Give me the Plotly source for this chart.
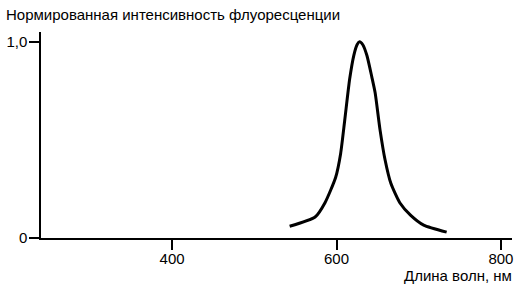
import plotly.graph_objects as go

wavelength = [543, 574, 586, 599, 605, 610, 616, 621, 625, 628, 632, 637, 643, 647, 653, 659, 666, 677, 690, 706, 734]
intensity = [0.06, 0.107, 0.18, 0.31, 0.43, 0.60, 0.81, 0.93, 0.985, 1.0, 0.985, 0.93, 0.82, 0.74, 0.55, 0.40, 0.28, 0.18, 0.117, 0.066, 0.03]

x_ticks = [400, 600, 800]
y_ticks = [0, 1]
y_ticktext = ["0", "1,0"]

FONT = "Liberation Sans, Arial, sans-serif"

fig = go.Figure()
fig.add_trace(go.Scatter(x=wavelength, y=intensity, mode="lines",
                         line=dict(color="black", width=3, shape="spline", smoothing=0.6),
                         hoverinfo="skip", showlegend=False))

fig.update_layout(
    width=516, height=290,
    margin=dict(l=41, r=4, t=32, b=52),
    paper_bgcolor="white", plot_bgcolor="white",
    font=dict(family=FONT, size=15, color="black"),
    xaxis=dict(range=[240.5, 813.5], tickvals=x_ticks, ticks="outside", ticklen=10,
               ticklabelstandoff=-4,
               tickwidth=1.5, tickcolor="black", showline=True, linecolor="black",
               linewidth=1.5, showgrid=False, zeroline=False,
               tickfont=dict(family=FONT, size=15)),
    yaxis=dict(range=[0, 1.05], tickvals=y_ticks, ticktext=y_ticktext, ticks="outside",
               ticklen=10, ticklabelstandoff=-1, tickwidth=1.5, tickcolor="black", showline=True,
               linecolor="black", linewidth=1.5, showgrid=False, zeroline=False,
               tickfont=dict(family=FONT, size=15)),
    annotations=[
        dict(text="Нормированная интенсивность флуоресценции", xref="paper", yref="paper",
             x=0, y=1, xshift=-37, yshift=18, xanchor="left", yanchor="middle",
             showarrow=False, font=dict(family=FONT, size=15)),
        dict(text="Длина волн, нм", xref="paper", yref="paper",
             x=1, y=0, xshift=2, yshift=-37, xanchor="right", yanchor="middle",
             showarrow=False, font=dict(family=FONT, size=15)),
    ],
)

fig.write_html("out.html")
